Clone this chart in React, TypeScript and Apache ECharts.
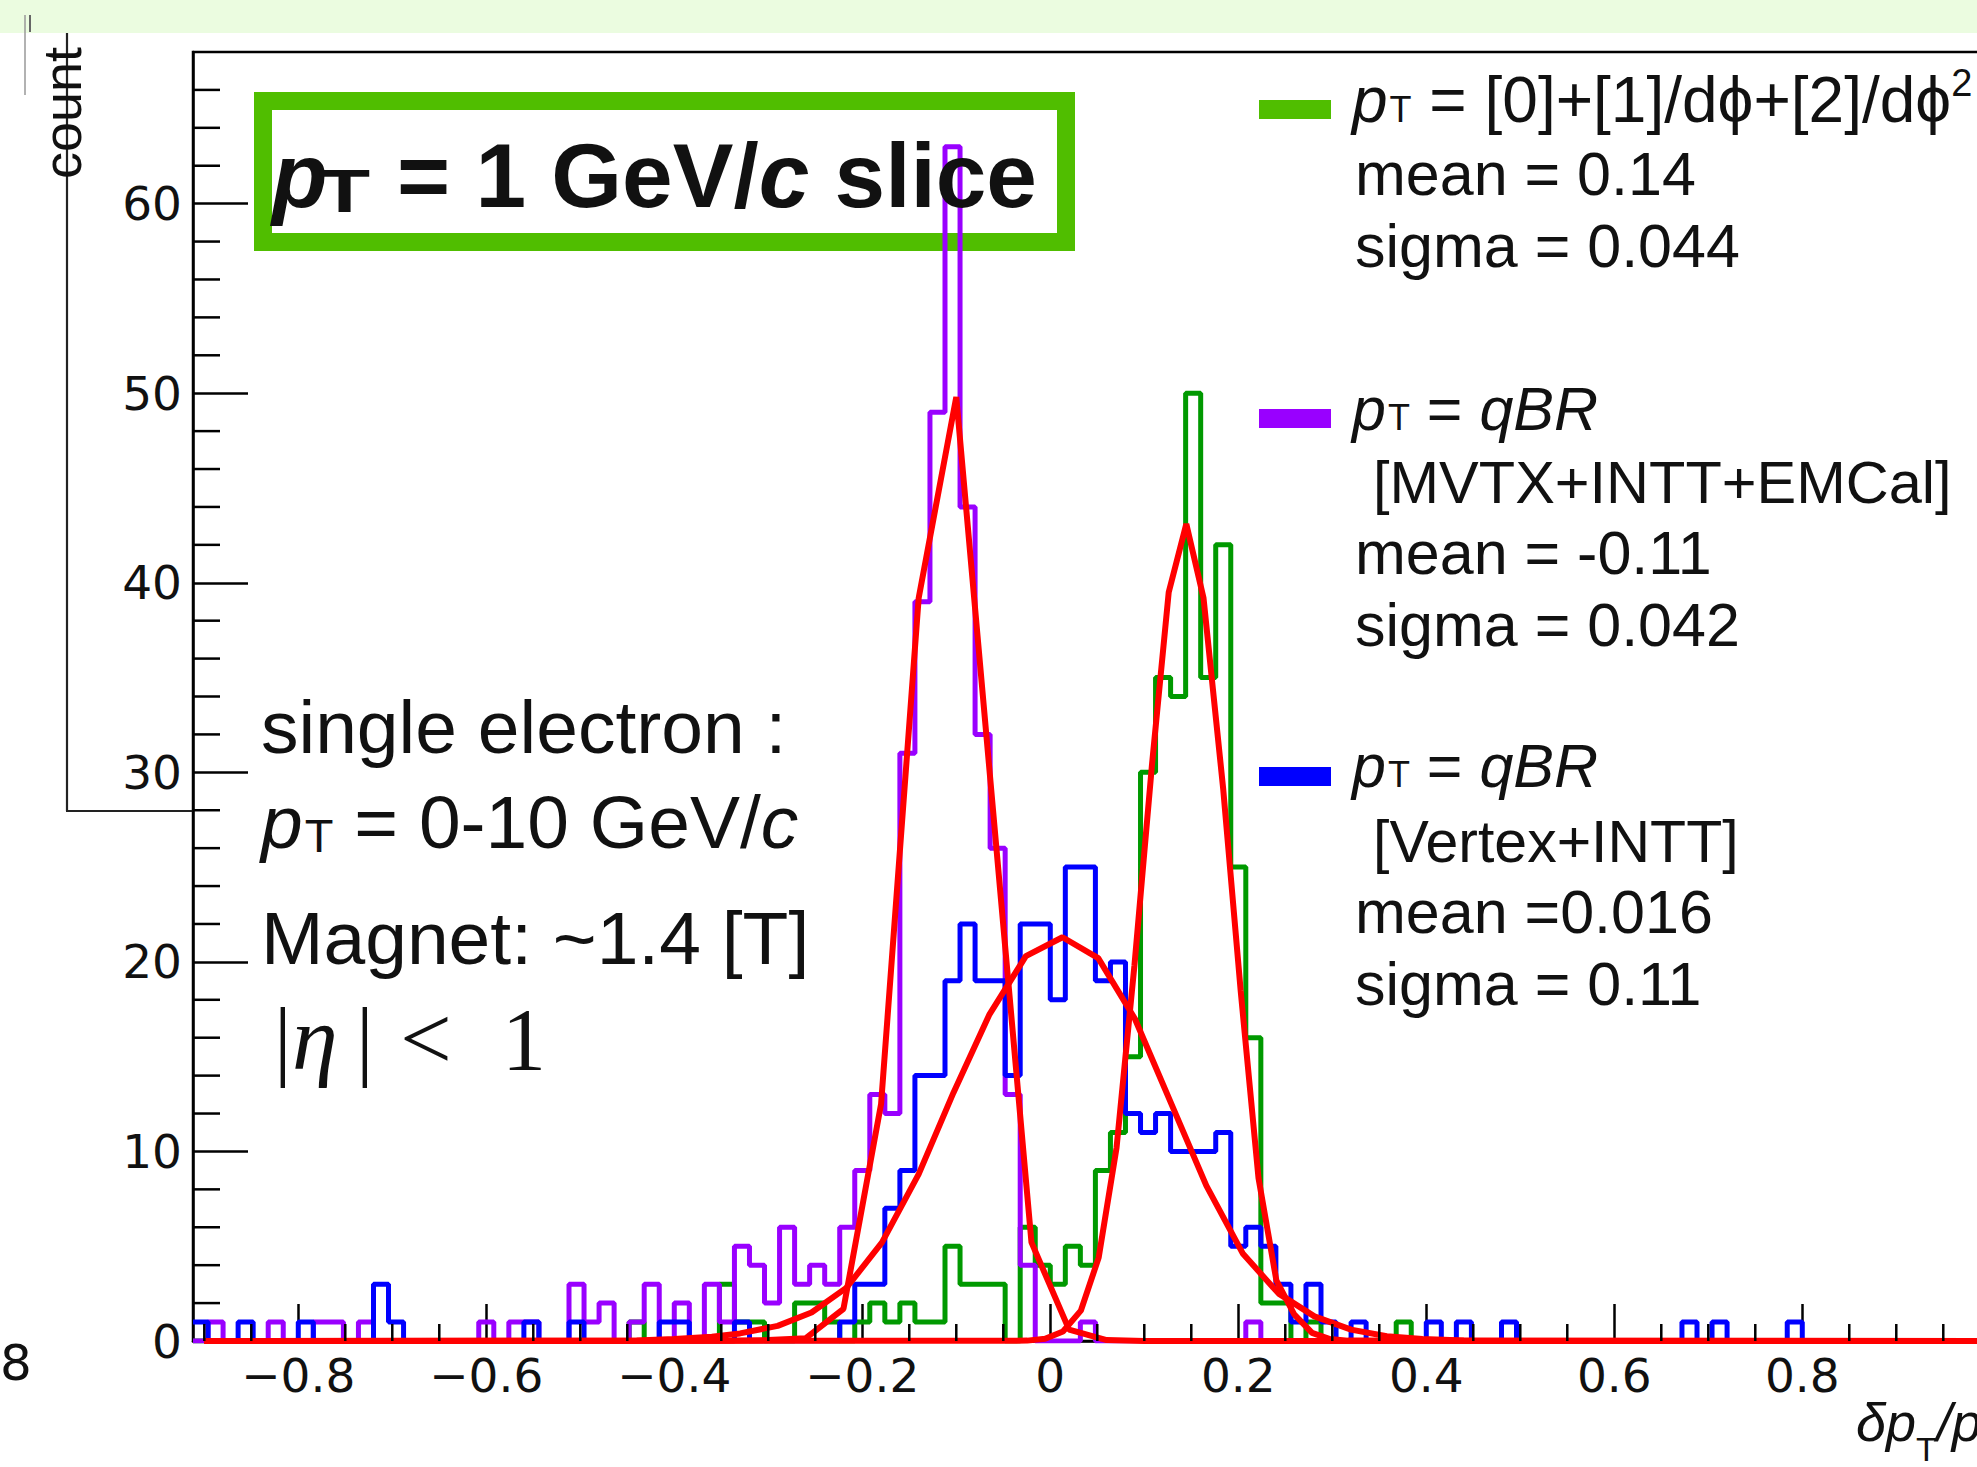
import React, { useEffect, useRef } from 'react';
import * as echarts from 'echarts';

// ---------- data ----------
const BIN_LOW = -0.912;
const BIN_WIDTH = 0.016;
const X_MIN = -0.912;
const X_MAX = 1.008;
const Y_MAX = 68;

// counts per bin (120 bins starting at BIN_LOW)
const greenCounts = [
  0,0,0,0,0,0,0,0,0,0,0,0,0,0,0,0,0,0,0,0,
  0,0,0,0,0,0,0,0,0,1,0,0,0,0,0,3,1,1,0,0,
  2,2,1,0,1,2,1,2,1,1,5,3,3,3,0,6,4,3,5,4,
  9,11,15,30,35,34,50,35,42,25,16,2,2,0,1,0,0,0,0,0,
  1,0,0,0,0,0,0,0,0,0,0,0,0,0,0,0,0,0,0,0,
  0,0,0,0,0,0,0,0,0,0,0,0,0,0,0,0,0,0,0,0,
];
const purpleCounts = [
  0,1,0,0,0,1,0,0,1,1,0,1,0,0,0,0,0,0,0,1,
  0,1,1,0,0,3,1,2,0,1,3,0,2,0,3,1,5,4,2,6,
  3,4,3,6,9,13,12,31,39,49,63,44,32,26,13,4,0,0,0,1,
  0,0,0,0,0,0,0,0,0,0,1,0,0,0,0,0,0,0,0,0,
  0,0,0,0,0,0,0,0,0,0,0,0,0,0,0,0,0,0,0,0,
  0,0,0,0,0,0,0,0,0,0,0,0,0,0,0,0,0,0,0,0,
];
const blueCounts = [
  1,0,0,1,0,0,0,1,0,0,0,0,3,1,0,0,0,0,0,0,
  0,0,1,0,0,1,0,0,0,0,0,1,1,0,0,0,1,0,0,0,
  0,0,0,1,3,3,7,9,14,14,19,22,19,19,14,22,22,18,25,25,
  19,20,12,11,12,10,10,10,11,5,6,5,3,1,3,1,0,1,0,0,
  0,0,1,0,1,0,0,1,0,0,0,0,0,0,0,0,0,0,0,1,
  0,1,0,0,0,0,1,0,0,0,0,0,0,0,0,0,0,0,0,0,
];

// fitted curves, vertices [x, count]
const purpleFit = [
  [-0.9, 0], [-0.34, 0.01], [-0.30, 0.05], [-0.26, 0.15], [-0.22, 1.7], [-0.18, 12.5],
  [-0.14, 39.2], [-0.10, 49.8], [-0.06, 27.5], [-0.02, 5.2], [0.02, 0.6], [0.06, 0.05],
  [0.10, 0], [1.008, 0],
];
const greenFit = [
  [-0.9, 0], [-0.0245, 0.02], [-0.0055, 0.12], [0.0135, 0.5], [0.0325, 1.6], [0.0515, 4.4],
  [0.0705, 10.2], [0.0895, 19.8], [0.108, 30.3], [0.126, 39.5], [0.1447, 43.1], [0.163, 39.2],
  [0.184, 29.1], [0.2025, 18.5], [0.2215, 8.6], [0.2405, 3.2], [0.2595, 1.4], [0.2785, 0.43],
  [0.2975, 0.1], [0.3165, 0.02], [1.008, 0],
];
const blueFit = [
  [-0.9, 0], [-0.48, 0.01], [-0.44, 0.03], [-0.40, 0.1], [-0.36, 0.22], [-0.33, 0.4],
  [-0.29, 0.8], [-0.254, 1.5], [-0.217, 2.8], [-0.179, 5.2], [-0.140, 8.8], [-0.103, 13.1],
  [-0.065, 17.2], [-0.026, 20.3], [0.013, 21.3], [0.051, 20.2], [0.090, 17.0], [0.128, 12.6],
  [0.166, 8.2], [0.205, 4.6], [0.243, 2.5], [0.281, 1.3], [0.32, 0.6], [0.358, 0.25],
  [0.396, 0.1], [0.44, 0.03], [0.48, 0.01], [1.008, 0],
];

// axis ticks / labels
const xTickLabels = [-0.8, -0.6, -0.4, -0.2, 0, 0.2, 0.4, 0.6, 0.8];
const xMajorTicks = [-0.8, -0.6, -0.4, -0.2, 0, 0.2, 0.4, 0.6, 0.8, 1.0];
const xMinorTicks = [
  -0.9, -0.85, -0.75, -0.7, -0.65, -0.55, -0.5, -0.45, -0.35, -0.3, -0.25, -0.15, -0.1, -0.05,
  0.05, 0.1, 0.15, 0.25, 0.3, 0.35, 0.45, 0.5, 0.55, 0.65, 0.7, 0.75, 0.85, 0.9, 0.95,
];
const yTickLabels = [0, 10, 20, 30, 40, 50, 60];
const yMinorTicks = [
  2, 4, 6, 8, 12, 14, 16, 18, 22, 24, 26, 28, 32, 34, 36, 38, 42, 44, 46, 48, 52, 54, 56, 58,
  62, 64, 66,
];

const GREEN_HIST = '#009900';
const PURPLE = '#9900ff';
const BLUE = '#0000ff';
const RED = '#ff0000';
const BRIGHT_GREEN = '#50be00';
const INK = '#111111';

const SANS = "'Liberation Sans'";
const SERIF = "'Liberation Serif'";
const WIDE = "'DejaVu Sans'";

// ---------- helpers ----------
function histData(counts: number[]) {
  const pts: number[][] = counts.map((c, i) => [BIN_LOW + i * BIN_WIDTH, c]);
  pts.push([BIN_LOW + counts.length * BIN_WIDTH, counts[counts.length - 1]]);
  return pts;
}

type Run = {
  t: string; size: number; bold?: boolean; italic?: boolean; fam?: 'sans' | 'serif' | 'wide';
  dy?: number; dx?: number; x?: number; sx?: number;
};

let measureCtx: CanvasRenderingContext2D | null = null;
function famOf(r: Run) {
  return r.fam === 'serif' ? SERIF : r.fam === 'wide' ? WIDE : SANS;
}
function fontOf(r: Run) {
  return `${r.italic ? 'italic ' : ''}${r.bold ? 'bold ' : ''}${r.size}px ${famOf(r)}`;
}
function runs(x0: number, baseline: number, list: Run[], fill = INK) {
  if (!measureCtx) measureCtx = document.createElement('canvas').getContext('2d');
  const ctx = measureCtx!;
  let x = x0;
  const out: any[] = [];
  for (const r of list) {
    if (r.x !== undefined) x = r.x;
    x += r.dx || 0;
    const font = fontOf(r);
    ctx.font = font;
    const sx = r.sx || 1;
    const w = ctx.measureText(r.t).width * sx;
    const k = r.fam === 'serif' ? 0.3375 : r.fam === 'wide' ? 0.346 : 0.3465;
    out.push({
      type: 'text',
      x,
      y: baseline + (r.dy || 0) - k * r.size,
      scaleX: sx,
      silent: true,
      z: 10,
      style: {
        text: r.t, font, fill, textAlign: 'left', textVerticalAlign: 'middle', verticalAlign: 'middle',
      },
    });
    x += w;
  }
  return out;
}

function buildOption() {
  const LEG = 61;
  const ANN = 75;
  const graphic: any[] = [
    // top light band
    { type: 'rect', shape: { x: 0, y: 0, width: 2010, height: 33 }, style: { fill: '#ebfce0' }, silent: true, z: 0 },
    // remnant of a neighbouring pad
    { type: 'line', shape: { x1: 67, y1: 33, x2: 67, y2: 811 }, style: { stroke: '#222', lineWidth: 2.2 }, silent: true },
    { type: 'line', shape: { x1: 66, y1: 811, x2: 193, y2: 811 }, style: { stroke: '#222', lineWidth: 2.2 }, silent: true },
    { type: 'line', shape: { x1: 25, y1: 15, x2: 25, y2: 95 }, style: { stroke: '#999', lineWidth: 1.5 }, silent: true },
    { type: 'line', shape: { x1: 30, y1: 15, x2: 30, y2: 32 }, style: { stroke: '#666', lineWidth: 2 }, silent: true },
    {
      type: 'text', x: 62, y: 113, rotation: Math.PI / 2, silent: true,
      style: { text: 'count', font: `54px ${SANS}`, fill: INK, textAlign: 'center', textVerticalAlign: 'middle', verticalAlign: 'middle' },
    },
    ...runs(0, 1380, [{ t: '8', size: 50, fam: 'wide' }]),
    // title box
    {
      type: 'rect', shape: { x: 263, y: 101, width: 803, height: 141 },
      style: { fill: 'none', stroke: BRIGHT_GREEN, lineWidth: 18 }, silent: true, z: 0,
    },
    ...runs(272, 207, [
      { t: 'p', size: 91, bold: true, italic: true },
      { t: 'T', size: 62, bold: true, x: 319, dy: 5, sx: 1.35 },
      { t: '= 1 GeV/', size: 91, bold: true, x: 397 },
      { t: 'c', size: 91, bold: true, italic: true },
      { t: ' slice', size: 91, bold: true },
    ]),
    // legend swatches
    { type: 'rect', shape: { x: 1259, y: 100, width: 72, height: 19 }, style: { fill: BRIGHT_GREEN }, silent: true },
    { type: 'rect', shape: { x: 1259, y: 409, width: 72, height: 19 }, style: { fill: PURPLE }, silent: true },
    { type: 'rect', shape: { x: 1259, y: 767, width: 72, height: 19 }, style: { fill: BLUE }, silent: true },
    // legend texts
    ...runs(1352, 122, [
      { t: 'p', size: 64, italic: true },
      { t: 'T', size: 36, dx: 2 },
      { t: ' = [0]+[1]/dϕ+[2]/dϕ', size: 64 },
      { t: '2', size: 38, dy: -26 },
    ]),
    ...runs(1355, 195, [{ t: 'mean = 0.14', size: LEG }]),
    ...runs(1355, 267, [{ t: 'sigma = 0.044', size: LEG }]),
    ...runs(1352, 430, [
      { t: 'p', size: LEG, italic: true },
      { t: 'T', size: 36, dx: 2 },
      { t: ' = ', size: LEG },
      { t: 'qBR', size: LEG, italic: true },
    ]),
    ...runs(1373, 503, [{ t: '[MVTX+INTT+EMCal]', size: 59.5 }]),
    ...runs(1355, 574, [{ t: 'mean = -0.11', size: LEG }]),
    ...runs(1355, 646, [{ t: 'sigma = 0.042', size: LEG }]),
    ...runs(1352, 787, [
      { t: 'p', size: LEG, italic: true },
      { t: 'T', size: 36, dx: 2 },
      { t: ' = ', size: LEG },
      { t: 'qBR', size: LEG, italic: true },
    ]),
    ...runs(1373, 862, [{ t: '[Vertex+INTT]', size: 59 }]),
    ...runs(1355, 933, [{ t: 'mean =0.016', size: LEG }]),
    ...runs(1355, 1005, [{ t: 'sigma = 0.11', size: LEG }]),
    // left annotations
    ...runs(261, 753, [{ t: 'single electron :', size: ANN }]),
    ...runs(261, 848, [
      { t: 'p', size: ANN, italic: true },
      { t: 'T', size: 47, dx: 2, dy: 4 },
      { t: ' = 0-10 GeV/', size: ANN },
      { t: 'c', size: ANN, italic: true },
    ]),
    ...runs(261, 964, [{ t: 'Magnet: ~1.4 [T]', size: ANN }]),
    ...runs(272, 1069, [
      { t: '|', size: 88, fam: 'serif', x: 274 },
      { t: 'η', size: 92, fam: 'serif', italic: true, x: 292 },
      { t: '|', size: 88, fam: 'serif', x: 356 },
      { t: '<', size: 92, fam: 'serif', x: 400 },
      { t: '1', size: 88, fam: 'serif', x: 502 },
    ]),
    // x-axis title
    ...runs(1856, 1441, [
      { t: 'δp', size: 54, italic: true },
      { t: 'T', size: 34, dy: 20 },
      { t: '/p', size: 54, italic: true },
      { t: 'T', size: 34, dy: 20 },
    ]),
  ];

  const histSeries = (name: string, counts: number[], color: string, z: number) => ({
    name, type: 'line', step: 'end', data: histData(counts), symbol: 'none', showSymbol: false,
    silent: true, z, lineStyle: { color, width: 5 }, itemStyle: { color },
  });
  const fitSeries = (name: string, pts: number[][]) => ({
    name, type: 'line', data: pts, symbol: 'none', showSymbol: false, smooth: false, silent: true,
    z: 5, lineStyle: { color: RED, width: 6 }, itemStyle: { color: RED },
  });

  return {
    animation: false,
    backgroundColor: '#ffffff',
    grid: {
      left: 193, top: 52, width: (X_MAX - X_MIN) * 940, height: 1289,
      show: true, borderColor: '#000', borderWidth: 2.5, backgroundColor: 'transparent',
    },
    xAxis: {
      type: 'value', min: X_MIN, max: X_MAX,
      axisLine: { show: true, onZero: false, lineStyle: { color: '#000', width: 2.5 } },
      axisTick: { show: true, inside: true, length: 37, lineStyle: { color: '#000', width: 2.5 }, customValues: xMajorTicks },
      axisLabel: {
        customValues: xTickLabels, fontSize: 47, fontFamily: 'DejaVu Sans', color: INK, margin: 11,
        formatter: (v: number) => (v < 0 ? '\u2212' + String(Math.abs(v)) : String(v)),
      },
      splitLine: { show: false },
    },
    yAxis: {
      type: 'value', min: 0, max: Y_MAX,
      axisLine: { show: true, onZero: false, lineStyle: { color: '#000', width: 2.5 } },
      axisTick: { show: true, inside: true, length: 55, lineStyle: { color: '#000', width: 2.5 }, customValues: yTickLabels },
      axisLabel: { customValues: yTickLabels, fontSize: 47, fontFamily: 'DejaVu Sans', color: INK, margin: 11 },
      splitLine: { show: false },
    },
    series: [
      histSeries('green', greenCounts, GREEN_HIST, 2),
      histSeries('purple', purpleCounts, PURPLE, 3),
      histSeries('blue', blueCounts, BLUE, 4),
      fitSeries('fit green', greenFit),
      fitSeries('fit purple', purpleFit),
      fitSeries('fit blue', blueFit),
      {
        type: 'custom', coordinateSystem: 'cartesian2d', silent: true, z: 6, clip: false,
        data: xMinorTicks.map((v) => [v, 0]),
        renderItem: (_p: any, api: any) => {
          const p = api.coord([api.value(0), 0]);
          return { type: 'line', shape: { x1: p[0], y1: p[1], x2: p[0], y2: p[1] - 17 }, style: { stroke: '#000', lineWidth: 2.5 } };
        },
      },
      {
        type: 'custom', coordinateSystem: 'cartesian2d', silent: true, z: 6, clip: false,
        data: yMinorTicks.map((v) => [X_MIN, v]),
        renderItem: (_p: any, api: any) => {
          const p = api.coord([X_MIN, api.value(1)]);
          return { type: 'line', shape: { x1: p[0], y1: p[1], x2: p[0] + 27, y2: p[1] }, style: { stroke: '#000', lineWidth: 2.5 } };
        },
      },
    ],
    graphic,
  };
}

export default function App() {
  const ref = useRef<HTMLDivElement>(null);
  useEffect(() => {
    document.body.style.margin = '0';
    const chart = echarts.init(ref.current!, undefined, { renderer: 'svg' });
    chart.setOption(buildOption() as any);
    return () => chart.dispose();
  }, []);
  return (
    <div style={{ position: 'fixed', left: 0, top: 0, width: 1977, height: 1467, overflow: 'hidden', background: '#fff' }}>
      <div ref={ref} style={{ width: 2010, height: 1467 }} />
    </div>
  );
}
